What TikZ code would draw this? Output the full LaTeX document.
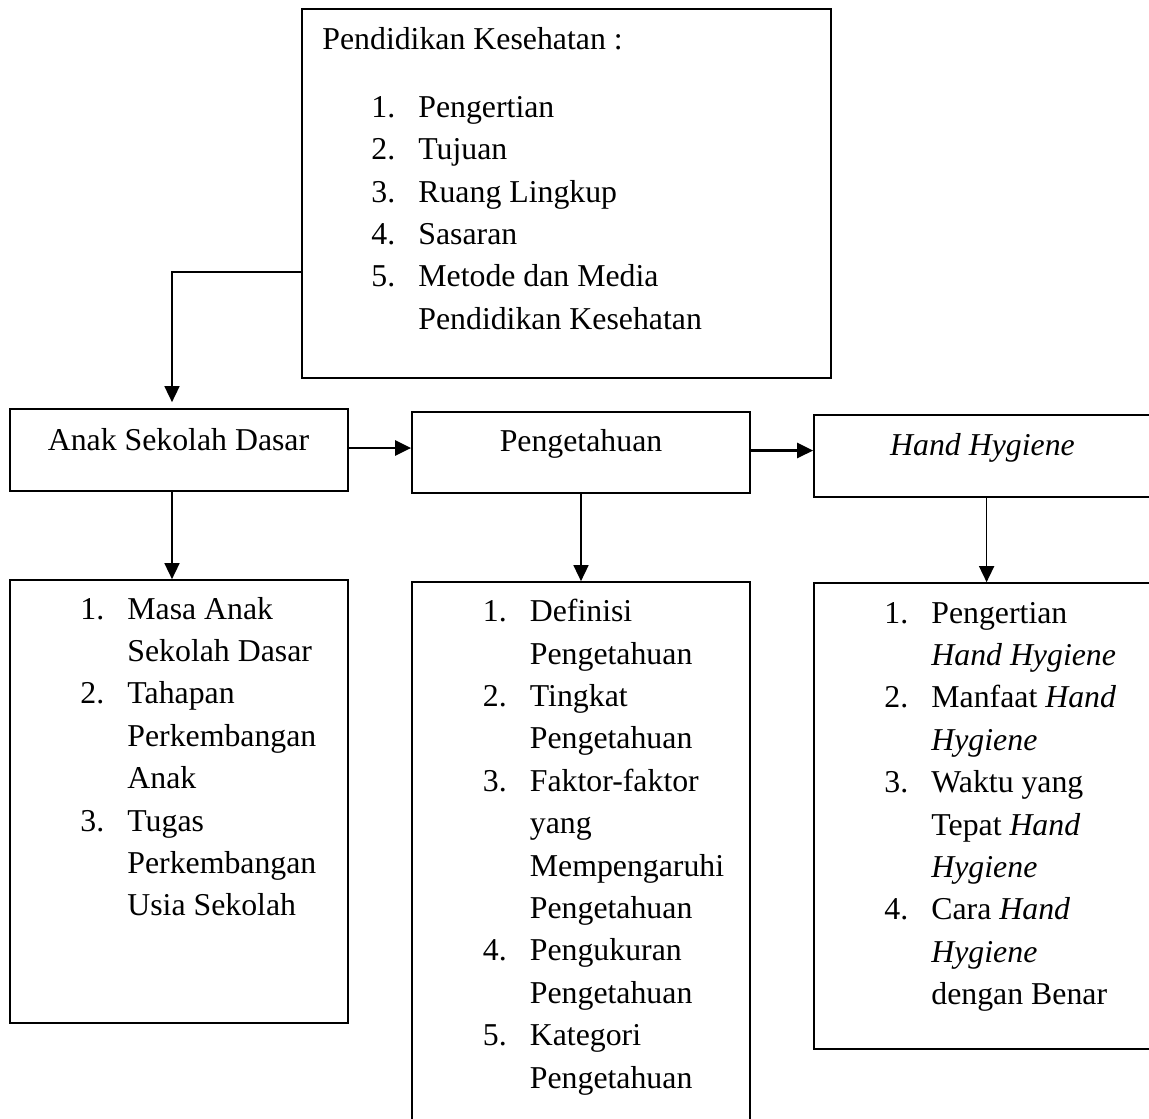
\documentclass[tikz,border=0pt]{standalone}
\usepackage{fontspec}
\setmainfont{Liberation Serif}
\usetikzlibrary{arrows.meta, positioning}

\newcommand{\nomor}[1]{\makebox[23.5pt][l]{#1}}
\newcommand{\hh}{\textit{Hand Hygiene}}

\begin{document}
\begin{tikzpicture}[
    x=0.5pt, y=-0.5pt,
    box/.style={rectangle, draw=black, line width=0.85pt, minimum width=169pt, inner sep=0pt},
    txt/.style={inner sep=0pt, font=\fontsize{15.9pt}{21.2pt}\selectfont},
    arrow/.style={-{Triangle[length=8pt, width=7.5pt]}, line width=0.8pt, black},
    thickarrow/.style={arrow, line width=1.4pt},
]
\useasboundingbox (0,0) rectangle (1149,1118);
\clip (0,0) rectangle (1149,1118);

% ===== Top: Pendidikan Kesehatan =====
\node[box, minimum width=264.5pt, minimum height=184.4pt] (pk) at (566.5,193.7) {};
\node[txt, anchor=base west] (pkhead) at (322,49.3) {Pendidikan Kesehatan :};
\node[txt, anchor=base west] (pklist) at (371,117.3) {\begin{tabular}[t]{@{}l@{}}
    \nomor{1.}Pengertian\\
    \nomor{2.}Tujuan\\
    \nomor{3.}Ruang Lingkup\\
    \nomor{4.}Sasaran\\
    \nomor{5.}Metode dan Media\\
    \nomor{}Pendidikan Kesehatan
\end{tabular}};

% ===== Middle row =====
\node[box, minimum height=41pt] (anak) at (179,450) {};
\node[txt, anchor=base] (anaktext) at (178.5,450) {Anak Sekolah Dasar};

\node[box, minimum height=40.5pt] (tahu) at (581,452.5) {};
\node[txt, anchor=base] (tahutext) at (581,451.7) {Pengetahuan};

\node[box, minimum height=41pt] (hand) at (983,456) {};
\node[txt, anchor=base] (handtext) at (982.5,455) {\hh};

% ===== Bottom row =====
\node[box, minimum height=221.5pt] (anaklist) at (179,801.5) {};
\node[txt, anchor=base west] (anakitems) at (80,619) {\begin{tabular}[t]{@{}l@{}}
    \nomor{1.}Masa Anak\\
    \nomor{}Sekolah Dasar\\
    \nomor{2.}Tahapan\\
    \nomor{}Perkembangan\\
    \nomor{}Anak\\
    \nomor{3.}Tugas\\
    \nomor{}Perkembangan\\
    \nomor{}Usia Sekolah
\end{tabular}};

\node[box, minimum height=274pt] (tahulist) at (581,856) {};
\node[txt, anchor=base west] (tahuitems) at (482.5,621.7) {\begin{tabular}[t]{@{}l@{}}
    \nomor{1.}Definisi\\
    \nomor{}Pengetahuan\\
    \nomor{2.}Tingkat\\
    \nomor{}Pengetahuan\\
    \nomor{3.}Faktor-faktor\\
    \nomor{}yang\\
    \nomor{}Mempengaruhi\\
    \nomor{}Pengetahuan\\
    \nomor{4.}Pengukuran\\
    \nomor{}Pengetahuan\\
    \nomor{5.}Kategori\\
    \nomor{}Pengetahuan
\end{tabular}};

\node[box, minimum height=233pt] (handlist) at (983,816) {};
\node[txt, anchor=base west] (handitems) at (884,623) {\begin{tabular}[t]{@{}l@{}}
    \nomor{1.}Pengertian\\
    \nomor{}\hh\\
    \nomor{2.}Manfaat \textit{Hand}\\
    \nomor{}\textit{Hygiene}\\
    \nomor{3.}Waktu yang\\
    \nomor{}Tepat \textit{Hand}\\
    \nomor{}\textit{Hygiene}\\
    \nomor{4.}Cara \textit{Hand}\\
    \nomor{}\textit{Hygiene}\\
    \nomor{}dengan Benar
\end{tabular}};

% ===== Arrows =====
\draw[arrow, shorten >=3pt] ([yshift=-39pt]pk.west) -| ([xshift=-3.5pt]anak.north);
\draw[thickarrow] ([yshift=1pt]anak.east) -- ([yshift=1pt]anak.east -| tahu.west);
\draw[thickarrow] ([yshift=1pt]tahu.east) -- ([yshift=1pt]tahu.east -| hand.west);
\draw[arrow] ([xshift=-3.5pt]anak.south) -- ([xshift=-3.5pt]anaklist.north);
\draw[arrow] (tahu.south) -- (tahulist.north);
\draw[arrow] ([xshift=1.8pt]hand.south) -- ([xshift=1.8pt]handlist.north);

\end{tikzpicture}
\end{document}
